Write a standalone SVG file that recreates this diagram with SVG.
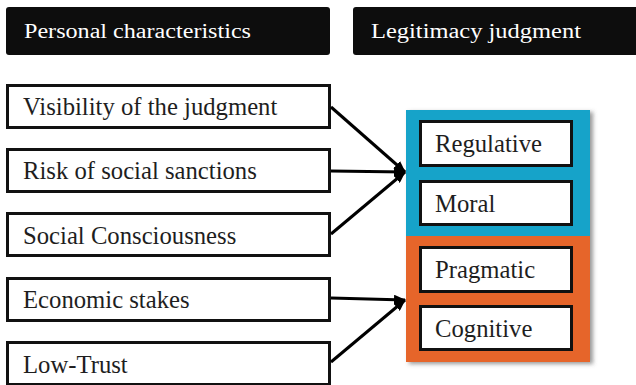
<svg xmlns="http://www.w3.org/2000/svg" width="636" height="385" viewBox="0 0 636 385">
  <style>
    .hdr { fill: #0d0d0d; }
    .hdrtxt { font-family: "Liberation Serif", "Times New Roman", serif; font-size: 20px; fill: #ffffff; }
    .box { fill: #ffffff; stroke: #111111; stroke-width: 3; }
    .txt { font-family: "Liberation Serif", "Times New Roman", serif; font-size: 24.7px; fill: #1e1e1e; }
    .conn { stroke: #000000; stroke-width: 3; fill: none; }
  </style>
  <defs>
    <marker id="arrow" viewBox="0 0 12 10" refX="11" refY="5" markerWidth="12" markerHeight="10" markerUnits="userSpaceOnUse" orient="auto">
      <path d="M0,0 L12,5 L0,10 z" fill="#000000"/>
    </marker>
    <filter id="shadow" x="-10%" y="-10%" width="130%" height="130%">
      <feDropShadow dx="3" dy="2" stdDeviation="2" flood-color="#555555" flood-opacity="0.6"/>
    </filter>
  </defs>
  <rect width="636" height="385" fill="#ffffff"/>

  <g id="header-personal">
    <rect class="hdr" x="6" y="7" width="324" height="48" rx="3"/>
    <text class="hdrtxt" x="24" y="38" textLength="227" lengthAdjust="spacingAndGlyphs">Personal characteristics</text>
  </g>
  <g id="header-legitimacy">
    <rect class="hdr" x="353" y="7" width="290" height="48" rx="3"/>
    <text class="hdrtxt" x="371" y="38" textLength="210" lengthAdjust="spacingAndGlyphs">Legitimacy judgment</text>
  </g>

  <g id="visibility">
    <rect class="box" x="7.5" y="85.5" width="322" height="42"/>
    <text class="txt" x="23" y="115">Visibility  of the judgment</text>
  </g>
  <g id="risk">
    <rect class="box" x="7.5" y="149.5" width="322" height="42"/>
    <text class="txt" x="23" y="179">Risk of social sanctions</text>
  </g>
  <g id="consciousness">
    <rect class="box" x="7.5" y="213.5" width="322" height="42"/>
    <text class="txt" x="23" y="244">Social Consciousness</text>
  </g>
  <g id="economic">
    <rect class="box" x="7.5" y="278.5" width="322" height="42"/>
    <text class="txt" x="23" y="308">Economic stakes</text>
  </g>
  <g id="lowtrust">
    <rect class="box" x="7.5" y="342.5" width="322" height="42"/>
    <text class="txt" x="23" y="373">Low-Trust</text>
  </g>

  <g id="container" filter="url(#shadow)">
    <rect x="406" y="110" width="184" height="126" fill="#17a3c9"/>
    <rect x="406" y="236" width="184" height="126" fill="#e6652a"/>
  </g>
  <g id="regulative">
    <rect class="box" x="420.5" y="121.5" width="151" height="44"/>
    <text class="txt" x="435" y="152">Regulative</text>
  </g>
  <g id="moral">
    <rect class="box" x="420.5" y="181.5" width="151" height="43"/>
    <text class="txt" x="435" y="212">Moral</text>
  </g>
  <g id="pragmatic">
    <rect class="box" x="420.5" y="247.5" width="151" height="44"/>
    <text class="txt" x="435" y="278">Pragmatic</text>
  </g>
  <g id="cognitive">
    <rect class="box" x="420.5" y="306.5" width="151" height="43"/>
    <text class="txt" x="435" y="337">Cognitive</text>
  </g>

  <g id="connectors">
    <line class="conn" x1="331" y1="107" x2="405" y2="172" marker-end="url(#arrow)"/>
    <line class="conn" x1="331" y1="171" x2="405" y2="172" marker-end="url(#arrow)"/>
    <line class="conn" x1="331" y1="234" x2="405" y2="172" marker-end="url(#arrow)"/>
    <line class="conn" x1="331" y1="298" x2="405" y2="300" marker-end="url(#arrow)"/>
    <line class="conn" x1="331" y1="362" x2="405" y2="300" marker-end="url(#arrow)"/>
  </g>
</svg>
